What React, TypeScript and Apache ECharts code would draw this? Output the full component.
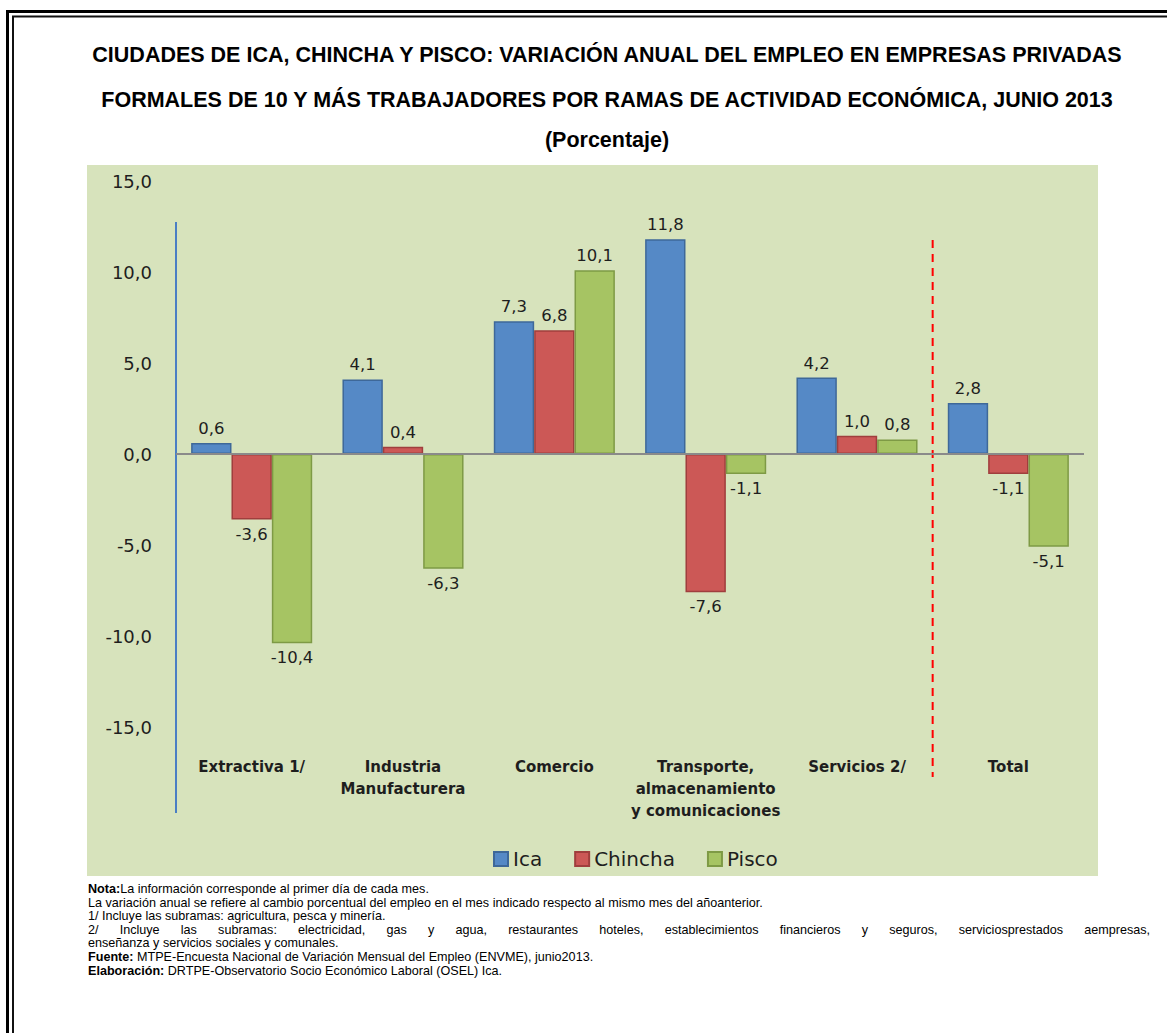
import React, { useEffect, useRef } from "react";
import * as echarts from "echarts";

const categories = [
  "Extractiva 1/",
  "Industria\nManufacturera",
  "Comercio",
  "Transporte,\nalmacenamiento\ny comunicaciones",
  "Servicios 2/",
  "Total",
];
const seriesNames = ["Ica", "Chincha", "Pisco"];
const icaValues = [0.6, 4.1, 7.3, 11.8, 4.2, 2.8];
const chinchaValues = [-3.6, 0.4, 6.8, -7.6, 1.0, -1.1];
const piscoValues = [-10.4, -6.3, 10.1, -1.1, 0.8, -5.1];
const yTicks = { min: -15, max: 15, interval: 5 };

const titleLines = [
  "CIUDADES DE ICA, CHINCHA Y PISCO: VARIACIÓN ANUAL DEL EMPLEO EN EMPRESAS PRIVADAS",
  "FORMALES DE 10 Y MÁS TRABAJADORES POR RAMAS DE ACTIVIDAD ECONÓMICA, JUNIO 2013",
  "(Porcentaje)",
];

const noteLines: { bold: string; text: string; justify?: boolean }[] = [
  { bold: "Nota:", text: "La información corresponde al primer día de cada mes." },
  { bold: "", text: "La variación anual se refiere al cambio porcentual del empleo en el mes indicado respecto al mismo mes del añoanterior." },
  { bold: "", text: "1/ Incluye las subramas: agricultura, pesca y minería." },
  { bold: "", text: "2/ Incluye las subramas: electricidad, gas y agua, restaurantes hoteles, establecimientos financieros y seguros, serviciosprestados aempresas,", justify: true },
  { bold: "", text: "enseñanza y servicios sociales y comunales." },
  { bold: "Fuente:", text: " MTPE-Encuesta Nacional de Variación Mensual del Empleo (ENVME), junio2013." },
  { bold: "Elaboración:", text: " DRTPE-Observatorio Socio Económico Laboral (OSEL) Ica." },
];

const fills = ["#5589C6", "#CC5856", "#A6C463"];
const borders = ["#3E6899", "#A03E3D", "#7E9A45"];

const fmt = (v: number) => v.toFixed(1).replace(".", ",");

export default function App() {
  const ref = useRef<HTMLDivElement>(null);
  useEffect(() => {
    if (!ref.current) return;
    document.body.style.margin = "0";
    const chart = echarts.init(ref.current, null, { renderer: "svg" });
    const W = 1167;
    const gridLeft = 176;
    const gridRight = 83;
    const gridTop = 181;
    const gridBottom = 306;
    const plotW = W - gridLeft - gridRight;
    const dashX = gridLeft + (plotW * 5) / 6;

    const ctx = document.createElement("canvas").getContext("2d")!;
    const noteFont = 12.6;
    const measure = (t: string, bold: boolean) => {
      ctx.font = `${bold ? "bold " : ""}${noteFont}px "Liberation Sans", Arial`;
      return ctx.measureText(t).width;
    };

    const allValues = [icaValues, chinchaValues, piscoValues];
    const series: any[] = allValues.map((vals, i) => ({
      name: seriesNames[i],
      type: "bar",
      barGap: "0%",
      barCategoryGap: "20%",
      itemStyle: { color: fills[i], borderColor: borders[i], borderWidth: 1.5 },
      data: vals.map((v) => ({
        value: v,
        label: { position: v >= 0 ? "top" : "bottom" },
      })),
      label: {
        show: true,
        formatter: (p: any) => fmt(p.value),
        fontFamily: "DejaVu Sans",
        fontSize: 16.5,
        color: "#1e1e1e",
        distance: 6,
      },
      markLine:
        i === 0
          ? {
              silent: true,
              symbol: "none",
              label: { show: false },
              lineStyle: { color: "#8a8a8a", width: 2, type: "solid" },
              data: [{ yAxis: 0 }],
            }
          : undefined,
      z: 3,
    }));

    const graphics: any[] = [
      {
        type: "rect",
        z: -10,
        shape: { x: 87, y: 165, width: 1011, height: 711 },
        style: { fill: "#D7E3BC" },
      },
      {
        type: "polyline",
        shape: { points: [[7.5, 1033], [7.5, 11.5], [1167, 11.5]] },
        style: { stroke: "#000", lineWidth: 3, fill: null },
      },
      {
        type: "polyline",
        shape: { points: [[13, 1033], [13, 16.5], [1167, 16.5]] },
        style: { stroke: "#111", lineWidth: 2, fill: null },
      },
      {
        type: "line",
        shape: { x1: gridLeft, y1: 222, x2: gridLeft, y2: 813 },
        style: { stroke: "#4A7EC4", lineWidth: 2 },
      },
      {
        type: "line",
        shape: { x1: dashX, y1: 240, x2: dashX, y2: 777 },
        style: { stroke: "#FF0000", lineWidth: 2, lineDash: [8, 6] },
      },
    ];
    const titleY = [55, 100, 140];
    titleLines.forEach((t, i) => {
      graphics.push({
        type: "text",
        x: 607,
        y: titleY[i],
        style: {
          text: t,
          fontFamily: "Liberation Sans, Arial",
          fontWeight: "bold",
          fontSize: 21.5,
          fill: "#000",
          align: "center",
          verticalAlign: "middle",
        },
      });
    });
    noteLines.forEach((n, i) => {
      const y = 889 + i * 13.6;
      const base = {
        fontFamily: "Liberation Sans, Arial",
        fontSize: noteFont,
        fill: "#000",
        align: "left",
        verticalAlign: "middle",
      };
      if (n.justify) {
        const words = n.text.split(/\s+/);
        const widths = words.map((w) => measure(w, false));
        const total = widths.reduce((a, b) => a + b, 0);
        const gap = (1150 - 88 - total) / (words.length - 1);
        let x = 88;
        words.forEach((w, k) => {
          graphics.push({ type: "text", x, y, style: { ...base, text: w } });
          x += widths[k] + gap;
        });
        return;
      }
      if (n.bold) {
        graphics.push({ type: "text", x: 88, y, style: { ...base, text: n.bold, fontWeight: "bold" } });
        graphics.push({ type: "text", x: 88 + measure(n.bold, true), y, style: { ...base, text: n.text } });
      } else {
        graphics.push({ type: "text", x: 88, y, style: { ...base, text: n.text } });
      }
    });

    chart.setOption({
      animation: false,
      grid: { left: gridLeft, right: gridRight, top: gridTop, bottom: gridBottom },
      legend: {
        data: seriesNames,
        left: 488,
        top: 844,
        itemWidth: 14,
        itemHeight: 14,
        itemGap: 32,
        icon: "rect",
        textStyle: { fontFamily: "DejaVu Sans", fontSize: 20, color: "#1e1e1e", padding: [0, 0, 0, 0] },
      },
      xAxis: {
        type: "category",
        data: categories,
        axisLine: { show: false, onZero: false },
        axisTick: { show: false },
        axisLabel: {
          margin: 29,
          fontFamily: "DejaVu Sans",
          fontWeight: "bold",
          fontSize: 15,
          lineHeight: 22,
          color: "#1e1e1e",
          interval: 0,
        },
      },
      yAxis: {
        type: "value",
        min: yTicks.min,
        max: yTicks.max,
        interval: yTicks.interval,
        axisLine: { show: false },
        axisTick: { show: false },
        splitLine: { show: false },
        axisLabel: {
          margin: 24,
          formatter: (v: number) => fmt(v),
          fontFamily: "DejaVu Sans",
          fontSize: 18,
          color: "#1e1e1e",
        },
      },
      graphic: graphics,
      series,
    });
    return () => chart.dispose();
  }, []);
  return (
    <div
      ref={ref}
      style={{ position: "absolute", left: 0, top: 0, width: 1167, height: 1033, background: "#fff" }}
    />
  );
}
